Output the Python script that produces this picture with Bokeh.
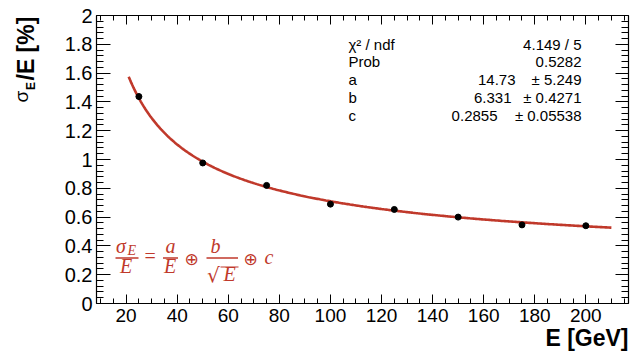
import numpy as np
from bokeh.plotting import figure
from bokeh.models import Label, BoxAnnotation, LinearAxis, Range1d, FixedTicker
from bokeh.embed import file_html
from bokeh.resources import INLINE

# ---------------- data ----------------
energy = [25, 50, 75, 100, 125, 150, 175, 200]
resolution = [1.437, 0.976, 0.820, 0.690, 0.653, 0.600, 0.546, 0.540]
res_err = [0.022, 0.016, 0.010, 0.008, 0.007, 0.007, 0.006, 0.006]

fit_a, fit_b, fit_c = 14.73, 6.331, 0.2855
fit_range = [21, 210]

x_tick_values = [20, 40, 60, 80, 100, 120, 140, 160, 180, 200]
y_tick_values = [0, 0.2, 0.4, 0.6, 0.8, 1, 1.2, 1.4, 1.6, 1.8, 2]
y_tick_labels = ["0", "0.2", "0.4", "0.6", "0.8", "1", "1.2", "1.4", "1.6", "1.8", "2"]

stat_names = ["\u03c7\u00b2 / ndf", "Prob", "a", "b", "c"]
stat_values = ["4.149 / 5", "0.5282", "14.73", "6.331", "0.2855"]
stat_errors = ["", "", "\u00b1 5.249", "\u00b1 0.4271", "\u00b1 0.05538"]

# plot area limits (data)
PX0, PX1 = 8.4, 216.7
PY0, PY1 = 0.0, 2.0

# ---------------- layout / style ----------------
FONT = "Liberation Sans"
SERIF = "Liberation Serif"
RED = "#c0392b"
W, H = 631, 352
FL, FR, FT, FB = 96, 628, 15, 303   # plot-area edges in canvas pixels

SX = (FR - FL) / (PX1 - PX0)
SY = (FB - FT) / (PY1 - PY0)
x_start = PX0 - FL / SX
x_end = PX1 + (W - FR) / SX
y_start = PY0 - (H - FB) / SY
y_end = PY1 + FT / SY


def cx(X):  # canvas px -> data x
    return x_start + X / SX


def cy(Y):  # canvas px (from top) -> data y
    return y_end - Y / SY


p = figure(width=W, height=H, output_backend="svg", toolbar_location=None,
           x_range=Range1d(x_start, x_end), y_range=Range1d(y_start, y_end),
           x_axis_location=None, y_axis_location=None, min_border=0)
p.grid.visible = False
p.outline_line_color = None
p.background_fill_color = "white"
p.border_fill_color = "white"

x_minor = list(np.arange(10, 216, 5))
y_minor = list(np.round(np.arange(0, 2.001, 0.04), 3))


def make_axis(ticks, minor, loc, bounds, tick_in, minor_in, labels=True, size="19px"):
    ax = LinearAxis(ticker=FixedTicker(ticks=ticks, minor_ticks=minor),
                    fixed_location=loc, bounds=bounds)
    ax.major_tick_in = tick_in
    ax.major_tick_out = 0
    ax.minor_tick_in = minor_in
    ax.minor_tick_out = 0
    ax.axis_line_color = "black"
    ax.axis_line_width = 1.2
    ax.major_tick_line_color = "black"
    ax.minor_tick_line_color = "black"
    if labels:
        ax.major_label_text_font = FONT
        ax.major_label_text_font_size = size
        ax.major_label_text_color = "black"
    else:
        ax.major_label_text_color = None
        ax.major_label_text_alpha = 0
    return ax


xa = make_axis(x_tick_values, x_minor, PY0, (PX0, PX1), 9, 5, size="19px")
xa.major_label_standoff = 5
p.add_layout(xa, "below")

ya = make_axis(y_tick_values, y_minor, PX0, (PY0, PY1), 14, 7, size="20px")
ya.major_label_overrides = {v: t for v, t in zip(y_tick_values, y_tick_labels)}
ya.major_label_standoff = 4
p.add_layout(ya, "left")

top = make_axis(x_tick_values, x_minor, PY1, (PX0, PX1), 9, 5, labels=False)
p.add_layout(top, "above")
right = make_axis(y_tick_values, y_minor, PX1, (PY0, PY1), 13, 7, labels=False)
p.add_layout(right, "right")

# ---------------- fit curve ----------------
e_fit = np.linspace(fit_range[0], fit_range[1], 400)
r_fit = np.sqrt((fit_a / e_fit) ** 2 + (fit_b / np.sqrt(e_fit)) ** 2 + fit_c ** 2)
p.line(e_fit, r_fit, line_color=RED, line_width=2.6)

# ---------------- data points ----------------
e_arr = np.array(energy)
r_arr = np.array(resolution)
err_arr = np.array(res_err)
p.segment(e_arr, r_arr - err_arr, e_arr, r_arr + err_arr, line_color="black", line_width=1.5)
p.scatter(e_arr, r_arr, size=6, marker="circle", fill_color="black", line_color="black")


# ---------------- text helpers ----------------
BASE_SHIFT = 0.4  # compensation (em) so that the given Y is the visual baseline


def add_label(text, X, Y, size, font=FONT, style="normal", color="black",
              align="left", angle=0.0):
    s = BASE_SHIFT * size
    Xa = X - s * np.sin(angle)
    Ya = Y - s * np.cos(angle)
    p.add_layout(Label(x=cx(Xa), y=cy(Ya), text=text, text_font=font,
                       text_font_size=f"{size}px", text_font_style=style,
                       text_color=color, text_align=align,
                       text_baseline="alphabetic", angle=angle))


def add_bar(X0, X1, Y, thick=1.3, color=RED):
    p.add_layout(BoxAnnotation(left=cx(X0), right=cx(X1),
                               top=cy(Y - thick / 2), bottom=cy(Y + thick / 2),
                               fill_color=color, fill_alpha=1.0, line_alpha=0.0))


# axis titles
add_label("E [GeV]", FR, 346.5, 23, style="bold", align="right")
add_label("\u03c3", 29, 102, 19, angle=np.pi / 2)
add_label("E", 35, 89.5, 12, style="bold", angle=np.pi / 2)
add_label("/E [%]", 35, 80, 23, style="bold", angle=np.pi / 2)

# stats box
stat_baselines = [49.5, 67.2, 85.3, 103.2, 121.1]
value_right = [581, 581, 515, 511, 497]
for name, val, err, yb, vr in zip(stat_names, stat_values, stat_errors, stat_baselines, value_right):
    add_label(name, 348, yb, 15)
    add_label(val, vr, yb, 15, align="right")
    if err:
        add_label(err, 581, yb, 15, align="right")

# formula  sigma_E/E = a/E (+) b/sqrt(E) (+) c
FS = 20
add_label("\u03c3", 115.5, 253, FS, font=SERIF, style="italic", color=RED)
add_label("E", 127, 255.5, 14, font=SERIF, style="italic", color=RED)
add_bar(115, 138, 257.5)
add_label("E", 119.5, 273.5, FS, font=SERIF, style="italic", color=RED)
add_label("=", 144, 263.5, FS, font=SERIF, color=RED)
add_label("a", 165, 253, FS, font=SERIF, style="italic", color=RED)
add_bar(162.5, 177.5, 257.5)
add_label("E", 163.5, 273.5, FS, font=SERIF, style="italic", color=RED)
add_label("\u2295", 184, 265, 17, font="DejaVu Sans", color=RED)
add_label("b", 210, 253, FS, font=SERIF, style="italic", color=RED)
add_bar(206, 237.5, 257.5)
add_label("\u221a", 206.5, 282, 20, font="DejaVu Serif", color=RED)
add_bar(220, 238, 266.5, thick=1.1)
add_label("E", 223, 281.5, FS, font=SERIF, style="italic", color=RED)
add_label("\u2295", 243, 265, 17, font="DejaVu Sans", color=RED)
add_label("c", 264, 264, FS, font=SERIF, style="italic", color=RED)

open("out.html", "w").write(file_html(p, INLINE))
